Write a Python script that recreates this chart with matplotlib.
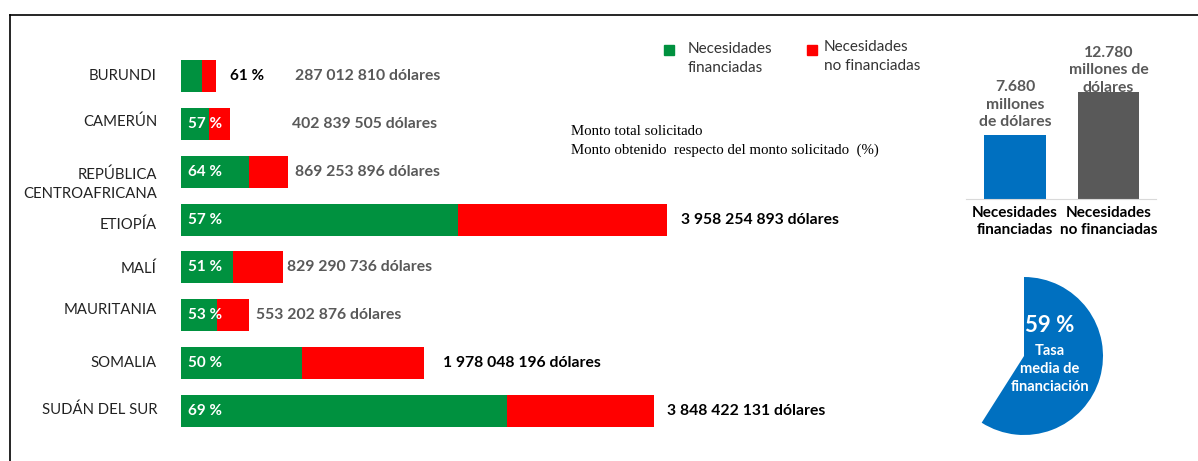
import matplotlib.pyplot as plt
from matplotlib.patches import Rectangle
from matplotlib.lines import Line2D

plt.rcParams['font.family'] = ['Lato', 'DejaVu Sans']

# datos de la figura
countries = ["BURUNDI", "CAMERÚN", "REPÚBLICA\nCENTROAFRICANA", "ETIOPÍA",
             "MALÍ", "MAURITANIA", "SOMALIA", "SUDÁN DEL SUR"]
requested = [287012810, 402839505, 869253896, 3958254893,
             829290736, 553202876, 1978048196, 3848422131]
funded_pct = [61, 57, 64, 57, 51, 53, 50, 69]
amount_labels = ["287 012 810 dólares", "402 839 505 dólares", "869 253 896 dólares",
                 "3 958 254 893 dólares", "829 290 736 dólares", "553 202 876 dólares",
                 "1 978 048 196 dólares", "3 848 422 131 dólares"]

summary_cats = ["Necesidades\nfinanciadas", "Necesidades\nno financiadas"]
summary_vals = [7680, 12780]
summary_labels = ["7.680\nmillones\nde dólares", "12.780\nmillones de\ndólares"]

avg_rate = 59

GREEN = "#00913F"
RED = "#FF0000"
BLUE = "#0070C0"
DGRAY = "#595959"

W, H = 1198, 461
fig = plt.figure(figsize=(W / 100, H / 100), dpi=100)


def px_box(x0, y0, x1, y1):
    return [x0 / W, 1 - y1 / H, (x1 - x0) / W, (y1 - y0) / H]


# marco
fig.add_artist(Line2D([10 / W, 1], [1 - 15 / H, 1 - 15 / H], color="black", lw=1.2))
fig.add_artist(Line2D([10 / W, 10 / W], [0, 1 - 15 / H], color="black", lw=1.2))

# barras por pais
ax = fig.add_axes(px_box(181, 52, 700, 435))
vals = [r / 1e6 for r in requested]
funded = [v * p / 100 for v, p in zip(vals, funded_pct)]
unfunded = [v - f for v, f in zip(vals, funded)]
ypos = list(range(len(countries)))
ax.barh(ypos, funded, height=0.667, color=GREEN)
ax.barh(ypos, unfunded, left=funded, height=0.667, color=RED)
ax.set_ylim(len(countries) - 0.5, -0.5)
ax.set_xlim(0, 519 / 0.1228)
ax.axis("off")

name_dy = [0, -2, 13, 5, 1, -5, 0, -1]
for i, name in enumerate(countries):
    ax.annotate(name, (0, i), xytext=(-24, -name_dy[i]), textcoords="offset pixels",
                ha="right", va="center", fontsize=10.7, color="#222222", linespacing=1.45)

amount_dx = [79, 62, 7, 14, 4, 7, 19, 13]
amount_col = [DGRAY, DGRAY, DGRAY, "black", DGRAY, DGRAY, "black", "black"]
for i, lab in enumerate(amount_labels):
    ax.annotate(lab, (vals[i], i), xytext=(amount_dx[i], 0), textcoords="offset pixels",
                ha="left", va="center", fontsize=11.3, fontweight="bold", color=amount_col[i])

for i, p in enumerate(funded_pct):
    if i == 0:
        ax.annotate(f"{p} %", (vals[i], i), xytext=(14, 0), textcoords="offset pixels",
                    ha="left", va="center", fontsize=11, fontweight="bold", color="black")
    else:
        ax.annotate(f"{p} %", (0, i), xytext=(7, 0), textcoords="offset pixels",
                    ha="left", va="center", fontsize=11, fontweight="bold", color="white")

# leyenda
fig.add_artist(Rectangle((664 / W, 1 - 55 / H), 10 / W, 10 / H, color=GREEN))
fig.add_artist(Rectangle((807 / W, 1 - 55 / H), 10 / W, 10 / H, color=RED))
fig.text(688 / W, 1 - 42 / H, "Necesidades\nfinanciadas", ha="left", va="top",
         fontsize=11, color="#333333", linespacing=1.45)
fig.text(824 / W, 1 - 40 / H, "Necesidades\nno financiadas", ha="left", va="top",
         fontsize=11, color="#333333", linespacing=1.45)

fig.text(571 / W, 1 - 131 / H, "Monto total solicitado", ha="left", va="center",
         fontsize=10.7, family="Liberation Serif")
fig.text(571 / W, 1 - 150 / H, "Monto obtenido  respecto del monto solicitado  (%)",
         ha="left", va="center", fontsize=10.7, family="Liberation Serif")

# resumen
ax2 = fig.add_axes(px_box(966, 30, 1156, 199))
ax2.bar([0, 1], summary_vals, width=0.663, color=[BLUE, DGRAY])
ax2.set_xlim(-0.524, 1.508)
ax2.set_ylim(0, 169 * 120)
for s in ["top", "right", "left"]:
    ax2.spines[s].set_visible(False)
ax2.spines["bottom"].set_color("#D9D9D9")
ax2.set_yticks([])
ax2.set_xticks([0, 1])
ax2.set_xticklabels(summary_cats, fontsize=11, fontweight="bold", color="black",
                    linespacing=1.25)
ax2.tick_params(axis="x", length=0, pad=5)
tl = ax2.get_xticklabels()
tl[1].set_x(1.07)
sum_dy = [6, -2]
for i, lab in enumerate(summary_labels):
    ax2.annotate(lab, (i, summary_vals[i]), xytext=(0, sum_dy[i]), textcoords="offset pixels",
                 ha="center", va="bottom", fontsize=11.3, fontweight="bold", color=DGRAY,
                 linespacing=1.3)

# tasa media
ax3 = fig.add_axes(px_box(1024 - 79, 356 - 79, 1024 + 79, 356 + 79))
ax3.pie([avg_rate, 100 - avg_rate], colors=[BLUE, "none"], startangle=90,
        counterclock=False, radius=1)
ax3.set_xlim(-1, 1)
ax3.set_ylim(-1, 1)
ax3.set_aspect("equal")
fig.text(1050 / W, 1 - 325 / H, f"{avg_rate} %", ha="center", va="center",
         fontsize=16, fontweight="bold", color="white")
fig.text(1050 / W, 1 - 369 / H, "Tasa\nmedia de\nfinanciación", ha="center", va="center",
         fontsize=10.5, fontweight="bold", color="white", linespacing=1.4)

fig.savefig("out.png", dpi=100)
